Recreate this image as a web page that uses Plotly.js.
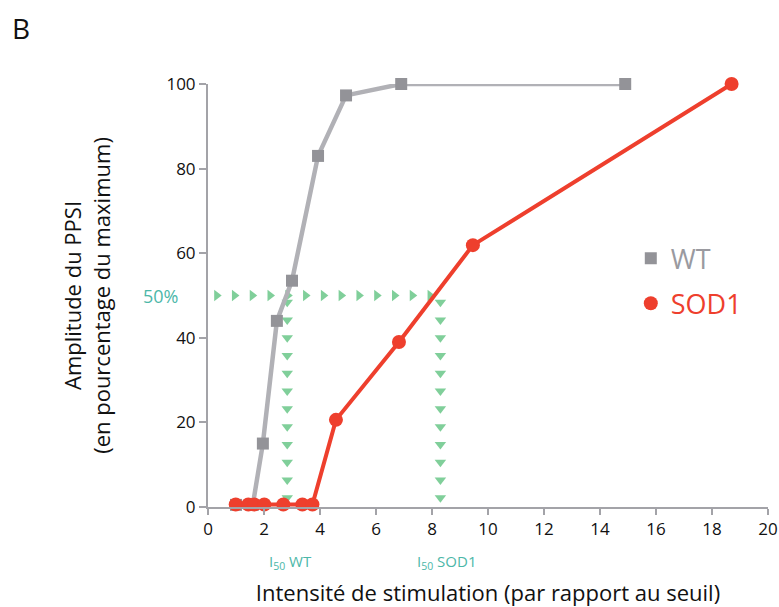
<!DOCTYPE html>
<html>
<head>
<meta charset="utf-8">
<script src="https://cdn.plot.ly/plotly-3.0.1.min.js"></script>
<style>
html,body{margin:0;padding:0;background:#fff;}
#chart{width:779px;height:607px;}
</style>
</head>
<body>
<div id="chart"></div>
<script>
// ---- data ----
const wtX = [1.0, 1.6, 1.96, 2.46, 3.0, 3.93, 4.93, 6.9, 14.9];
const wtY = [0.5, 0.5, 15, 44, 53.5, 83, 97.3, 100, 100];
const sodX = [0.99, 1.44, 1.65, 2.01, 2.69, 3.37, 3.73, 4.57, 6.82, 9.46, 18.7];
const sodY = [0.6, 0.6, 0.6, 0.6, 0.6, 0.6, 0.6, 20.6, 39, 61.9, 100];
const halfLevel = 50;
const i50WT = 2.83;
const i50SOD = 8.3;
const xTicks = [0, 2, 4, 6, 8, 10, 12, 14, 16, 18, 20];
const yTicks = [0, 20, 40, 60, 80, 100];

// ---- guide triangles (decoration) ----
const hX = [], hY = [];
for (let x = 0.31; x <= i50SOD - 0.2; x += 0.635) { hX.push(x); hY.push(halfLevel); }
const vX = [], vY = [];
[i50WT, i50SOD].forEach(xv => {
  for (let y = halfLevel - 1.6; y >= 1.5; y -= 4.2) { vX.push(xv); vY.push(y); }
});

const FONT = '"Open Sans", "DejaVu Sans", sans-serif';
const green = '#80cf9a';
const teal = '#4cb7a8';
const grayLine = '#b1b1b6';
const grayMark = '#939398';
const red = '#ee3f2d';

const traces = [
  {x: hX, y: hY, mode: 'markers', type: 'scatter', showlegend: false, hoverinfo: 'skip',
   marker: {symbol: 'triangle-right', size: 10, color: green}, cliponaxis: false},
  {x: vX, y: vY, mode: 'markers', type: 'scatter', showlegend: false, hoverinfo: 'skip',
   marker: {symbol: 'triangle-down', size: 10, color: green}, cliponaxis: false},
  {x: wtX, y: wtY, mode: 'lines+markers', type: 'scatter', showlegend: false,
   line: {color: grayLine, width: 4.5}, marker: {symbol: 'square', size: 12, color: grayMark}, cliponaxis: false},
  {x: sodX, y: sodY, mode: 'lines+markers', type: 'scatter', showlegend: false,
   line: {color: red, width: 4}, marker: {symbol: 'circle', size: 14, color: red}, cliponaxis: false},
  // legend entries (marker only, like the reference)
  {x: [null], y: [null], mode: 'markers', type: 'scatter', name: '<span style="color:#9a9aa0">WT</span>',
   legendgroup: 'a', marker: {symbol: 'square', size: 12, color: grayMark}},
  {x: [null], y: [null], mode: 'markers', type: 'scatter', name: '<span style="color:#ee3f2d">SOD1</span>',
   legendgroup: 'b', marker: {symbol: 'circle', size: 14, color: red}}
];

const layout = {
  width: 779, height: 607,
  margin: {l: 208, r: 11, t: 84, b: 100},
  paper_bgcolor: '#fff', plot_bgcolor: '#fff',
  font: {family: FONT, size: 17, color: '#111'},
  showlegend: true,
  legend: {x: 0.755, y: 0.645, xanchor: 'left', yanchor: 'top', bgcolor: 'rgba(0,0,0,0)',
           font: {family: FONT, size: 27}, tracegroupgap: 7, itemwidth: 30, traceorder: 'grouped'},
  xaxis: {range: [0, 20], tickvals: xTicks, ticktext: xTicks.map(String), showgrid: false, zeroline: false,
          showline: true, linecolor: '#a3a3a8', linewidth: 2, ticks: 'outside', ticklen: 6, tickcolor: '#a3a3a8', tickwidth: 2,
          tickfont: {family: FONT, size: 17, color: '#111'},
          title: {text: 'Intensité de stimulation (par rapport au seuil)', font: {family: FONT, size: 22, color: '#111'}, standoff: 46}},
  yaxis: {range: [0, 100], tickvals: yTicks, ticktext: yTicks.map(String), showgrid: false, zeroline: false,
          showline: true, linecolor: '#a3a3a8', linewidth: 2, ticks: 'outside', ticklen: 7, tickcolor: '#a3a3a8', tickwidth: 2,
          tickfont: {family: FONT, size: 17, color: '#111'},
          title: {text: 'Amplitude du PPSI<br>(en pourcentage du maximum)', font: {family: FONT, size: 22, color: '#111'}, standoff: 50}},
  annotations: [
    {text: 'B', xref: 'paper', yref: 'paper', x: -198/560, y: 1 + 56/423, xanchor: 'left', yanchor: 'middle',
     showarrow: false, font: {family: FONT, size: 28, color: '#111'}},
    {text: '50%', xref: 'paper', yref: 'y', x: -28/560, y: halfLevel, xanchor: 'right', yanchor: 'middle',
     showarrow: false, font: {family: FONT, size: 18, color: teal}},
    {text: 'I<sub>50</sub> WT', xref: 'x', yref: 'paper', x: i50WT + 0.1, y: -55/423, xanchor: 'center', yanchor: 'middle',
     showarrow: false, font: {family: FONT, size: 15, color: teal}},
    {text: 'I<sub>50</sub> SOD1', xref: 'x', yref: 'paper', x: i50SOD + 0.2, y: -55/423, xanchor: 'center', yanchor: 'middle',
     showarrow: false, font: {family: FONT, size: 15, color: teal}}
  ]
};

Plotly.newPlot('chart', traces, layout, {displayModeBar: false, staticPlot: true});
</script>
</body>
</html>
